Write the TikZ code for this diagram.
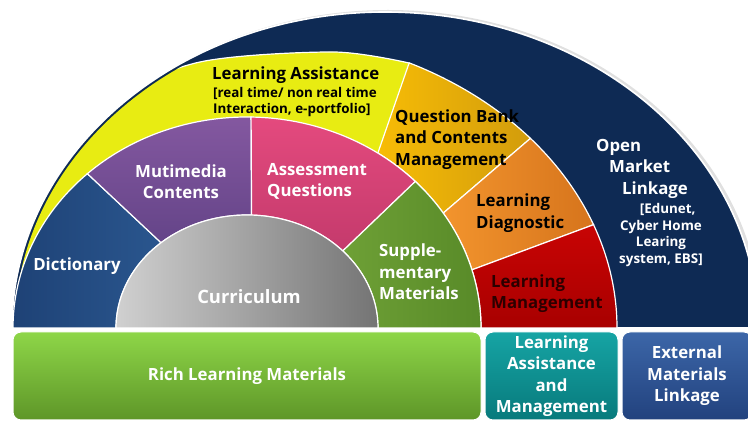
\documentclass[tikz,border=0pt]{standalone}
\usepackage{fontspec}
\setmainfont{Open Sans}
\usetikzlibrary{positioning}

\definecolor{navy}{RGB}{14,42,84}
\definecolor{sunyellow}{RGB}{232,236,18}
\definecolor{goldA}{RGB}{247,188,6}
\definecolor{goldB}{RGB}{210,156,12}
\definecolor{orangeA}{RGB}{242,148,45}
\definecolor{orangeB}{RGB}{214,116,28}
\definecolor{redA}{RGB}{200,4,4}
\definecolor{redB}{RGB}{168,0,0}
\definecolor{dictA}{RGB}{30,66,118}
\definecolor{dictB}{RGB}{42,86,142}
\definecolor{purpA}{RGB}{132,88,160}
\definecolor{purpB}{RGB}{100,68,136}
\definecolor{pinkA}{RGB}{228,74,126}
\definecolor{pinkB}{RGB}{196,58,108}
\definecolor{suppA}{RGB}{110,160,54}
\definecolor{suppB}{RGB}{88,138,40}
\definecolor{currA}{RGB}{208,208,208}
\definecolor{currB}{RGB}{116,116,116}
\definecolor{richA}{RGB}{142,214,72}
\definecolor{richB}{RGB}{94,150,40}
\definecolor{tealA}{RGB}{22,164,164}
\definecolor{tealB}{RGB}{8,122,124}
\definecolor{extA}{RGB}{60,102,168}
\definecolor{extB}{RGB}{34,66,126}
\definecolor{maroon}{RGB}{44,0,0}

\begin{document}
\begin{tikzpicture}[x=1pt, y=1pt,
    seg/.style={draw=white, line width=1.2pt},
    lbl/.style={inner sep=0pt, text=white,
                font=\fontsize{16.8}{21.5}\selectfont\bfseries},
    dlbl/.style={lbl, text=black},
    sub/.style={inner sep=0pt,
                font=\fontsize{13.4}{16.6}\selectfont\bfseries},
    box/.style={rounded corners=8pt, draw=white, line width=1pt,
                minimum height=88pt, inner sep=0pt, align=center},
]
\useasboundingbox (0,-97) rectangle (748,328);
\clip (0,-97) rectangle (748,328);

% Outer navy half ellipse
\fill[black!12] (14,-1) arc[start angle=180, end angle=0, x radius=374, y radius=319] -- cycle;
\fill[navy, draw=white, line width=1.6pt]
    (12,0) arc[start angle=180, end angle=0, x radius=373, y radius=316] -- cycle;

% Yellow band, clipped to the navy
\begin{scope}
  \clip (15,0) arc[start angle=180, end angle=0, x radius=370, y radius=313] -- cycle;
  \fill[sunyellow]
    plot[smooth] coordinates {(14,48) (23,85) (50,168) (100,225) (200,266) (333,276) (409,265)}
    -- (378,175) -- (247,0) -- (10,0) -- cycle;
  \draw[white, line width=1.2pt]
    plot[smooth] coordinates {(14,48) (23,85) (50,168) (100,225) (200,266) (333,276) (409,265)};
\end{scope}

\begin{scope}[shift={(247,0)}]
  \shade[seg, left color=goldA, right color=goldB]
    (56:234 and 211) -- (64:370 and 295)
    arc[start angle=64, end angle=40, x radius=370, y radius=295]
    -- (33:234 and 211) arc[start angle=33, end angle=56, x radius=234, y radius=211] -- cycle;
  \shade[seg, left color=orangeA, right color=orangeB]
    (33:234 and 211) -- (40:370 and 295)
    arc[start angle=40, end angle=20.5, x radius=370, y radius=295]
    -- (16:234 and 211) arc[start angle=16, end angle=33, x radius=234, y radius=211] -- cycle;
  \shade[seg, top color=redA, bottom color=redB]
    (16:234 and 211) -- (20.5:370 and 295)
    arc[start angle=20.5, end angle=0, x radius=370, y radius=295]
    -- (0:234 and 211) arc[start angle=0, end angle=16, x radius=234, y radius=211] -- cycle;

  % Inner ring
  \shade[seg, left color=dictA, right color=dictB]
    (180:131 and 113) -- (180:234 and 211)
    arc[start angle=180, end angle=133, x radius=234, y radius=211]
    -- (131:131 and 113) arc[start angle=131, end angle=180, x radius=131, y radius=113] -- cycle;
  \shade[seg, top color=purpA, bottom color=purpB]
    (131:131 and 113) -- (133:234 and 211)
    arc[start angle=133, end angle=89, x radius=234, y radius=211]
    -- (88:131 and 113) arc[start angle=88, end angle=131, x radius=131, y radius=113] -- cycle;
  \shade[seg, top color=pinkA, bottom color=pinkB]
    (88:131 and 113) -- (89:234 and 211)
    arc[start angle=89, end angle=44, x radius=234, y radius=211]
    -- (43:131 and 113) arc[start angle=43, end angle=88, x radius=131, y radius=113] -- cycle;
  \shade[seg, left color=suppA, right color=suppB]
    (43:131 and 113) -- (44:234 and 211)
    arc[start angle=44, end angle=0, x radius=234, y radius=211]
    -- (0:131 and 113) arc[start angle=0, end angle=43, x radius=131, y radius=113] -- cycle;

  % Curriculum core
  \shade[seg, left color=currA, right color=currB]
    (-131,0) arc[start angle=180, end angle=0, x radius=131, y radius=113] -- cycle;
\end{scope}

% Labels in the fan
\node[dlbl, anchor=west] (assisttitle) at (212,253) {Learning Assistance};
\node[sub, anchor=north west, align=left] (assistsub) at (213,241)
    {[real time/ non real time\\Interaction, e-portfolio]};
\node[lbl, align=center] (media) at (181,146.5) {Mutimedia\\Contents};
\node[lbl, anchor=west, align=left] (assess) at (267,146.5) {Assessment\\Questions};
\node[dlbl, anchor=west, align=left] (qbank) at (395,188.5)
    {Question Bank\\and Contents\\Management};
\node[dlbl, anchor=west, align=left] (diag) at (476,115) {Learning\\Diagnostic};
\node[dlbl, text=maroon, anchor=west, align=left] (manage) at (491,34.5)
    {Learning\\Management};
\node[lbl, anchor=west, align=left] (market) at (596,159.5)
    {Open\\\hspace*{13pt}Market\\\hspace*{26pt}Linkage};
\node[sub, text=white, align=center] (marketsub) at (661,93)
    {\quad[Edunet,\\Cyber Home\\Learing\\system, EBS]};
\node[lbl] (dict) at (77,62) {Dictionary};
\node[lbl, align=left, anchor=west] (supp) at (379,56) {Supple-\\mentary\\Materials};
\node[lbl, font=\fontsize{18.4}{22}\selectfont\bfseries] (curr) at (249,31) {Curriculum};

% Bottom boxes
\node[box, lbl, top color=richA, bottom color=richB, minimum width=468pt]
    (rich) at (247,-48) {Rich Learning Materials};
\node[box, lbl, top color=tealA, bottom color=tealB, minimum width=133pt,
      right=3pt of rich] (assist) {Learning\\Assistance\\and\\Management};
\node[box, lbl, top color=extA, bottom color=extB, minimum width=130pt,
      right=3pt of assist] (external) {External\\Materials\\Linkage};

\end{tikzpicture}
\end{document}
